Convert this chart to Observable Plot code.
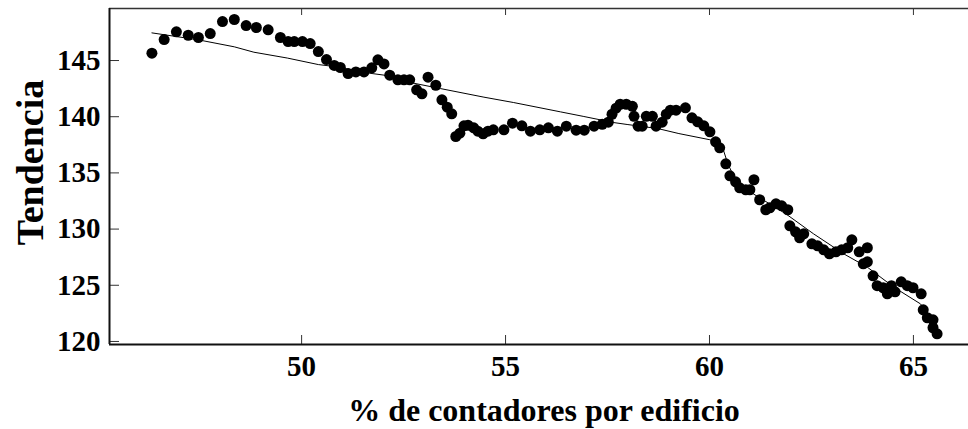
<!DOCTYPE html>
<html>
<head>
<meta charset="utf-8">
<script src="https://cdn.jsdelivr.net/npm/d3@7"></script>
<script src="https://cdn.jsdelivr.net/npm/@observablehq/plot@0.6"></script>
<style>
  html, body { margin: 0; padding: 0; background: #fff; }
  #chart svg { display: block; }
</style>
</head>
<body>
<div id="chart"></div>
<script>
// Scatter points: % de contadores por edificio (x) and Tendencia (y)
const pointX = [46.33,46.63,46.93,47.22,47.47,47.76,48.06,48.35,48.64,48.89,49.18,49.48,49.67,49.82,50.02,50.21,50.41,50.61,50.80,50.95,
  51.14,51.33,51.53,51.72,51.87,52.02,52.16,52.36,52.51,52.65,52.82,52.95,53.10,53.29,53.44,53.57,53.68,53.78,53.88,53.98,
  54.08,54.22,54.32,54.45,54.57,54.70,54.96,55.17,55.40,55.61,55.84,56.05,56.27,56.49,56.73,56.93,57.17,57.37,57.52,57.61,
  57.71,57.81,57.96,58.11,58.15,58.25,58.35,58.45,58.60,58.69,58.84,58.94,59.04,59.18,59.41,59.57,59.71,59.86,60.01,60.15,
  60.25,60.40,60.50,60.64,60.74,60.89,60.99,61.09,61.23,61.38,61.48,61.63,61.77,61.92,61.97,62.11,62.21,62.31,62.51,62.65,
  62.80,62.94,63.10,63.24,63.39,63.49,63.67,63.77,63.87,63.87,64.01,64.11,64.26,64.36,64.46,64.55,64.70,64.85,64.99,65.19,
  65.24,65.34,65.48,65.48,65.58];
const pointY = [145.65,146.87,147.55,147.25,147.05,147.40,148.47,148.65,148.11,147.94,147.73,147.05,146.69,146.69,146.69,146.51,145.80,145.09,144.56,144.38,
  143.84,143.99,143.99,144.35,145.06,144.70,143.70,143.28,143.28,143.28,142.39,142.04,143.52,142.80,141.50,140.85,140.26,138.24,138.53,139.19,
  139.24,139.01,138.71,138.48,138.71,138.83,138.83,139.42,139.19,138.71,138.83,139.01,138.71,139.16,138.80,138.80,139.16,139.33,139.51,140.22,
  140.76,141.11,141.11,140.93,140.04,139.16,139.16,140.04,140.04,139.16,139.51,140.22,140.58,140.58,140.79,139.90,139.55,139.19,138.66,137.77,
  137.23,135.81,134.74,134.21,133.67,133.50,133.50,134.39,132.61,131.72,131.90,132.25,132.07,131.72,130.29,129.76,129.23,129.58,128.69,128.51,
  128.16,127.80,127.98,128.16,128.34,129.05,127.98,126.91,128.34,127.09,125.84,124.96,124.78,124.24,124.96,124.42,125.31,124.96,124.78,124.24,
  122.82,122.11,121.93,121.22,120.68];

// Trend line
const trendX = [46.33,47.47,48.35,48.83,49.65,50.41,50.80,51.67,52.02,52.75,53.41,54.47,55.20,56.35,56.92,57.65,57.98,58.73,59.25,60.01,60.30,60.45,60.65,60.90,61.09,61.87,62.55,63.29,63.87,64.52,65.17,65.50];
const trendY = [147.46,146.84,146.22,145.74,145.22,144.64,144.47,143.87,143.70,142.98,142.50,141.74,141.26,140.43,140.02,139.48,139.31,138.95,138.50,137.95,137.50,135.80,134.30,133.60,133.10,131.36,129.58,127.80,126.61,124.83,123.35,121.87];

// Axes
const xDomain = [45.29, 66.35];
const yDomain = [119.73, 149.63];
const xTicks = [50, 55, 60, 65];
const yTicks = [120, 125, 130, 135, 140, 145];
const xLabel = "% de contadores por edificio";
const yLabel = "Tendencia";

const points = pointX.map((x, i) => ({x, y: pointY[i]}));
const trend = trendX.map((x, i) => ({x, y: trendY[i]}));

const W = 968, H = 429;
const mL = 109, mR = 0, mT = 8, mB = 85;
const innerW = W - mL - mR, innerH = H - mT - mB;
const font = "'Liberation Serif', 'Times New Roman', serif";

const chart = Plot.plot({
  width: W,
  height: H,
  marginLeft: mL,
  marginRight: mR,
  marginTop: mT,
  marginBottom: mB,
  style: {fontFamily: font, background: "#fff", color: "#000"},
  x: {domain: xDomain, axis: null},
  y: {domain: yDomain, axis: null},
  marks: [
    // inward ticks
    Plot.tickX(xTicks, {x: d => d, insetTop: innerH - 9, stroke: "#333", strokeWidth: 1}),
    Plot.tickX(xTicks, {x: d => d, insetBottom: innerH - 7, stroke: "#333", strokeWidth: 1}),
    Plot.tickY(yTicks, {y: d => d, insetRight: innerW - 10, stroke: "#333", strokeWidth: 1}),
    // frame (box without right edge)
    Plot.ruleY([yDomain[0]], {stroke: "#111", strokeWidth: 2}),
    Plot.ruleY([yDomain[1]], {stroke: "#333", strokeWidth: 1.5}),
    Plot.ruleX([xDomain[0]], {stroke: "#111", strokeWidth: 2}),
    // tick labels
    Plot.axisX({ticks: xTicks, tickSize: 0, tickPadding: 11, anchor: "bottom", label: null,
      fontSize: 29, fontWeight: "bold", fontFamily: font}),
    Plot.axisY({ticks: yTicks, tickSize: 0, tickPadding: 9, anchor: "left", label: null,
      fontSize: 29, fontWeight: "bold", fontFamily: font}),
    // data
    Plot.line(trend, {x: "x", y: "y", stroke: "#000", strokeWidth: 1}),
    Plot.dot(points, {x: "x", y: "y", r: 5.5, fill: "#000", stroke: null}),
    // axis titles
    Plot.text([xLabel], {text: d => d, frameAnchor: "bottom", dx: 5, dy: 66, lineAnchor: "middle", textAnchor: "middle",
      fontSize: 32, fontWeight: "bold", fontFamily: font, fill: "#000"}),
    Plot.text([yLabel], {text: d => d, frameAnchor: "left", rotate: -90, dx: -79, dy: -14, lineAnchor: "middle", textAnchor: "middle",
      fontSize: 38, fontWeight: "bold", fontFamily: font, fill: "#000"})
  ]
});

document.getElementById("chart").appendChild(chart);
</script>
</body>
</html>
